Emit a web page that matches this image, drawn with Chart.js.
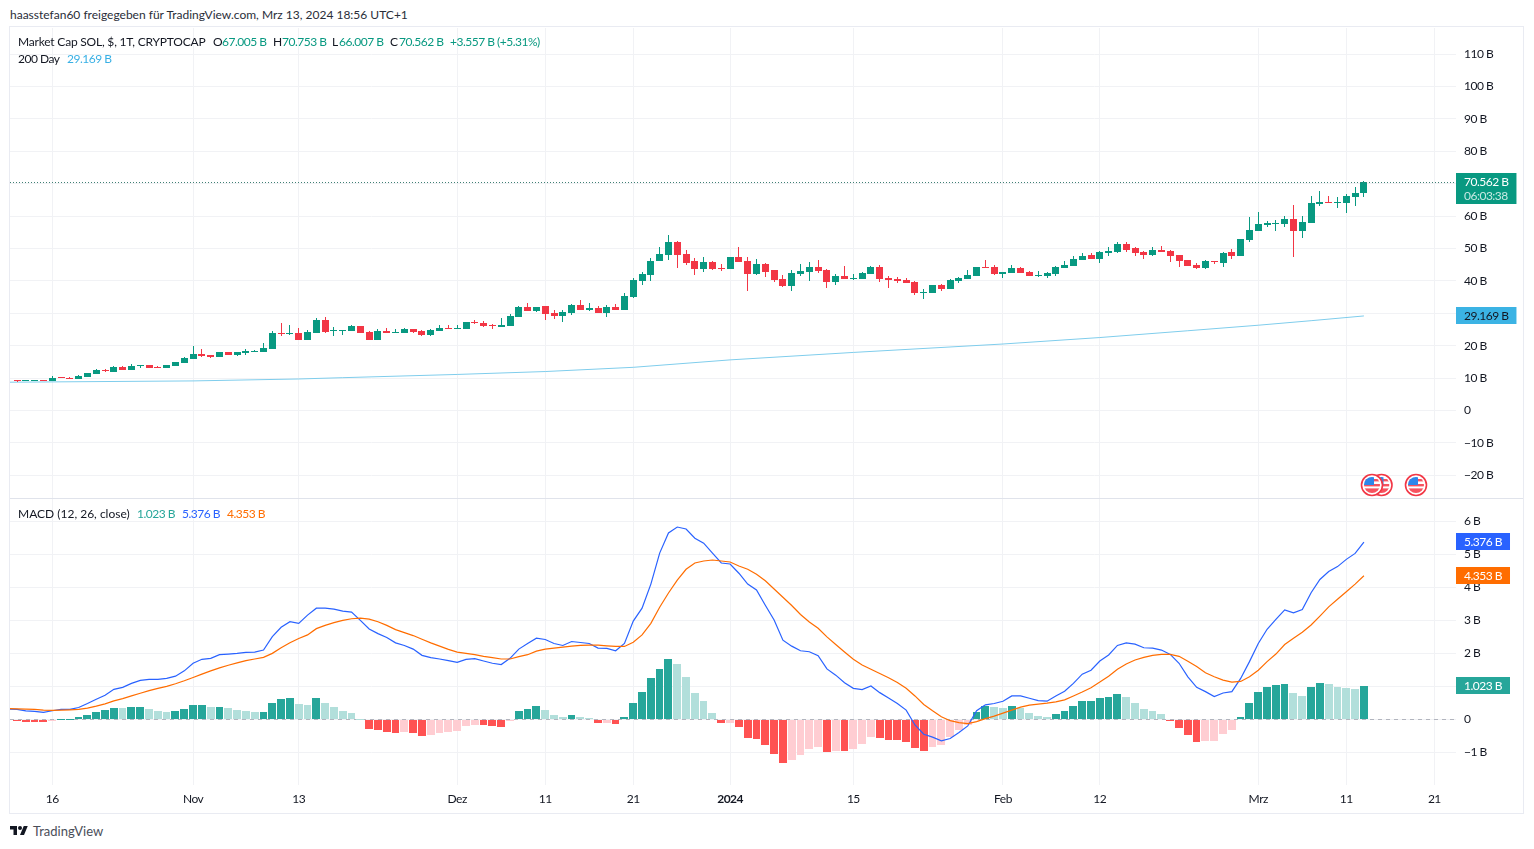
<!DOCTYPE html>
<html>
<head>
<meta charset="utf-8">
<title>Market Cap SOL</title>
<script src="https://cdn.jsdelivr.net/npm/chart.js@4"></script>
<style>
  html, body { margin: 0; padding: 0; background: #fff; }
  body { position: relative; width: 1534px; height: 849px; overflow: hidden; font-family: Lato, sans-serif; font-size: 12px; color: #131722; }
  canvas { position: absolute; left: 10px; }
  #frame { position: absolute; left: 9px; top: 26px; width: 1513px; height: 786px; border: 1.5px solid #e9ebf2; }
  #divider { position: absolute; left: 10px; top: 498px; width: 1513px; height: 1px; background: #e0e3eb; }
  .t { position: absolute; white-space: nowrap; line-height: 14px; }
  .n { letter-spacing: -0.5px; }
  .green { color: #089981; }
  #logo { position: absolute; left: 10px; top: 824px; }
  #flags { position: absolute; left: 1355px; top: 470px; }
</style>
</head>
<body>
<div id="frame"></div>
<canvas id="priceChart" width="1513" height="470" style="top:28px"></canvas>
<canvas id="macdChart" width="1513" height="314" style="top:499px"></canvas>
<div id="divider"></div>

<div class="t" style="left:10px;top:8px;color:#2a2e39">haasstefan60 freigegeben für TradingView.com, Mrz 13, 2024 18:56 UTC+1</div>
<div class="t" style="left:18px;top:35px;letter-spacing:-0.2px">Market Cap SOL, $, 1T, CRYPTOCAP</div>
<div class="t" style="left:213px;top:35px">O</div><div class="t n green" style="left:222px;top:35px">67.005&nbsp;B</div>
<div class="t" style="left:273px;top:35px">H</div><div class="t n green" style="left:282px;top:35px">70.753&nbsp;B</div>
<div class="t" style="left:332px;top:35px">L</div><div class="t n green" style="left:339px;top:35px">66.007&nbsp;B</div>
<div class="t" style="left:390px;top:35px">C</div><div class="t n green" style="left:399px;top:35px">70.562&nbsp;B</div>
<div class="t n green" style="left:450px;top:35px">+3.557&nbsp;B (+5.31%)</div>
<div class="t n" style="left:18px;top:52px">200 Day</div><div class="t n" style="left:67px;top:52px;color:#39b0e5">29.169&nbsp;B</div>
<div class="t" style="left:18px;top:507px">MACD (12, 26, close)</div>
<div class="t n" style="left:137px;top:507px;color:#26a69a">1.023&nbsp;B</div>
<div class="t n" style="left:182px;top:507px;color:#2962ff">5.376&nbsp;B</div>
<div class="t n" style="left:227px;top:507px;color:#ff6d00">4.353&nbsp;B</div>

<svg id="flags" width="76" height="30" viewBox="0 0 76 30">
  <defs>
    <clipPath id="disc"><circle cx="0" cy="0" r="8"/></clipPath>
    <g id="flag">
      <circle r="10.5" fill="#fff" stroke="#f23645" stroke-width="1.6"/>
      <g clip-path="url(#disc)">
        <rect x="-8" y="-8" width="16" height="16" fill="#fff"/>
        <rect x="-8" y="-6" width="16" height="2.4" fill="#f7525f"/>
        <rect x="-8" y="-1" width="16" height="2.4" fill="#f7525f"/>
        <rect x="-8" y="3.4" width="16" height="4.6" fill="#f7525f"/>
        <rect x="-8" y="-8" width="10" height="8" fill="#2e86ea"/>
      </g>
    </g>
  </defs>
  <use href="#flag" x="26.5" y="15"/>
  <use href="#flag" x="17" y="15"/>
  <use href="#flag" x="61" y="15"/>
</svg>

<svg id="logo" width="18" height="14" viewBox="0 0 36 28">
  <path fill="#131722" d="M14 22H7V11H0V4h14v18zM28 22h-8l7.5-18h8L28 22z"/><circle cx="20" cy="8" r="4" fill="#131722"/>
</svg>
<div class="t" style="left:33px;top:824px;font-size:13px;color:#4a4e59">TradingView</div>

<script>
'use strict';

// day numbers are counted from Oct 16 2023, the first labelled tick on the time axis
const firstCandleDay = -4;
const firstLineDay = -5;
const tickDays = [0, 16, 28, 46, 56, 66, 77, 91, 108, 119, 137, 147, 157];
const tickLabels = ['16', 'Nov', '13', 'Dez', '11', '21', '2024', '15', 'Feb', '12', 'Mrz', '11', '21'];
const priceTicks = [-20, -10, 0, 10, 20, 30, 40, 50, 60, 70, 80, 90, 100, 110];
const macdTicks = [-1, 0, 1, 2, 3, 4, 5, 6];

// candles, in billions of dollars
const opens = [
  9.39,9.2,9.2,9.39,9.08,10.31,10.0,9.7,10.31,11.24,
  12.48,11.86,13.4,12.48,13.71,14.02,13.4,13.09,13.71,14.64,
  15.87,17.42,17.11,16.49,18.04,17.11,17.73,18.04,18.04,18.96,
  23.9,23.6,23.9,21.74,23.9,27.92,24.52,24.63,24.53,26.07,
  24.22,21.75,24.53,23.91,23.91,25.14,24.53,23.29,24.53,25.45,
  25.14,25.14,27.41,27.0,26.48,25.76,26.07,28.85,31.94,30.7,
  32.25,30.09,29.16,30.09,32.56,31.01,31.63,30.09,31.94,31.01,
  35.03,39.97,41.83,46.15,48.0,52.02,48.31,46.15,43.68,45.84,
  43.99,43.68,47.39,46.15,42.13,45.22,43.37,40.59,38.43,42.13,
  42.75,44.3,43.37,39.66,41.52,40.59,40.59,42.13,44.3,40.9,
  40.59,40.28,39.66,36.26,36.26,38.74,37.5,39.97,40.59,41.52,
  44.3,44.3,42.13,42.44,43.99,42.75,41.52,41.52,42.13,43.99,
  44.6,46.46,48.0,46.77,48.62,48.93,51.4,50.16,48.93,48.0,
  49.55,49.24,48.0,46.46,44.91,43.99,46.16,45.54,48.94,47.7,
  52.65,55.43,57.28,57.59,57.59,59.13,55.43,57.9,63.77,64.38,
  64.08,64.08,65.93,67.005
];
const highs = [
  9.39,9.4,9.4,9.4,10.62,10.31,10.2,10.93,11.55,12.78,
  12.78,13.71,13.71,14.33,14.02,14.02,13.71,14.02,14.95,16.49,
  19.89,18.96,17.11,18.04,18.04,18.04,18.96,18.65,20.82,24.52,
  27.0,26.38,25.45,24.83,28.54,28.85,25.76,24.94,26.38,26.07,
  24.53,25.14,25.45,25.14,25.45,25.14,24.84,25.14,26.38,26.38,
  26.38,27.31,27.92,27.61,26.69,28.54,29.78,32.25,33.18,31.94,
  32.25,31.01,31.01,32.87,34.1,33.18,32.25,32.56,32.87,36.26,
  40.9,42.75,47.08,50.47,54.18,52.33,49.55,47.08,47.39,46.15,
  45.22,47.39,50.47,47.39,46.77,45.53,43.37,41.83,43.37,45.22,
  45.84,46.46,43.68,42.13,44.6,42.13,42.75,44.6,44.91,41.52,
  41.21,40.9,39.97,37.5,38.74,39.04,40.59,41.21,43.37,44.3,
  46.46,44.91,42.75,44.91,44.3,43.06,43.06,42.75,44.6,46.15,
  47.69,48.62,48.62,49.24,50.47,52.02,52.02,50.47,49.24,50.47,
  50.78,49.55,48.0,46.46,45.53,46.46,46.16,48.94,49.87,52.96,
  59.75,61.3,58.51,58.83,60.06,63.46,60.06,66.24,67.78,66.24,
  65.93,66.86,69.02,70.753
];
const lows = [
  8.77,9.2,9.2,9.2,9.08,10.1,9.59,9.7,10.31,11.24,
  11.86,11.86,12.48,12.48,13.09,13.09,13.09,13.09,13.71,14.64,
  15.87,16.49,16.18,16.49,17.11,16.8,17.11,18.04,18.04,18.96,
  22.98,23.29,21.74,21.74,23.9,23.9,22.98,23.29,24.53,23.91,
  21.75,21.75,23.91,23.91,23.91,23.91,22.98,22.98,24.53,25.14,
  25.14,25.14,26.79,25.76,25.14,25.76,26.07,28.85,30.7,30.4,
  27.92,28.23,27.31,29.47,31.01,30.7,30.09,28.85,31.01,31.01,
  34.72,38.74,39.97,46.15,46.46,43.99,44.91,41.83,42.75,43.37,
  43.06,43.68,45.84,36.88,41.83,41.21,39.66,38.12,36.88,41.52,
  39.97,42.44,37.81,38.74,40.59,40.28,40.59,42.13,39.66,37.81,
  39.35,39.35,35.65,34.41,36.26,36.88,37.5,39.35,40.59,41.52,
  43.99,41.83,40.9,42.44,42.44,41.52,41.21,40.9,41.52,43.99,
  44.6,46.46,46.77,45.53,47.69,48.62,48.93,47.69,46.77,47.69,
  48.93,45.84,44.3,44.6,43.68,43.68,45.23,44.31,46.78,47.7,
  52.03,55.43,56.66,55.43,56.66,47.39,53.26,57.9,63.15,64.08,
  62.53,60.99,63.15,66.007
];
const closes = [
  9.08,9.39,9.39,9.2,10.0,10.1,9.8,10.62,11.55,12.48,
  12.17,13.4,12.48,13.71,14.02,13.09,13.09,14.02,14.95,16.18,
  17.42,16.8,16.49,18.04,17.11,18.04,18.35,18.35,19.27,23.9,
  23.6,23.9,21.74,24.21,27.92,24.21,24.83,24.94,26.07,23.91,
  21.75,24.53,23.91,24.22,25.14,24.22,23.29,24.84,25.45,25.14,
  25.45,27.31,27.1,26.07,26.17,26.38,29.16,31.94,30.7,31.94,
  29.78,29.16,30.4,32.56,31.01,31.63,30.09,31.94,31.01,35.34,
  40.28,42.13,46.15,48.31,52.02,48.0,45.53,43.68,45.84,43.68,
  43.68,47.39,45.84,42.13,45.22,42.75,40.28,38.43,42.44,43.06,
  44.3,43.06,39.66,41.52,40.59,40.9,42.44,44.3,40.59,40.28,
  39.97,39.35,36.26,36.57,38.74,37.5,40.28,40.9,41.83,44.3,
  43.99,42.13,42.75,43.99,42.44,41.52,41.83,42.44,44.3,44.91,
  46.77,47.69,46.77,48.93,49.24,51.4,49.55,48.62,48.0,49.55,
  48.93,47.69,46.15,44.6,43.99,46.16,45.85,48.63,47.7,52.96,
  55.74,57.59,57.9,57.9,59.13,55.43,58.21,64.08,64.38,64.08,
  64.38,66.24,67.16,70.562
];

// 200 day average, read at the days where the slope changes
const smaDays = [-5, 16, 28, 33, 46, 56, 66, 77, 91, 108, 119, 129, 137, 143, 149];
const smaValues = [8.7, 9.1, 9.7, 10.1, 11.1, 12.0, 13.3, 15.6, 17.9, 20.5, 22.5, 24.6, 26.3, 27.7, 29.169];

// MACD pane
const histogram = [
  -0.065,-0.068,-0.07,-0.072,-0.05,0.01,0.02,0.07,0.13,0.22,
  0.28,0.34,0.33,0.37,0.38,0.31,0.25,0.22,0.25,0.31,
  0.43,0.44,0.37,0.38,0.34,0.28,0.25,0.22,0.23,0.49,
  0.61,0.64,0.46,0.45,0.64,0.49,0.37,0.25,0.19,0.01,
  -0.29,-0.32,-0.38,-0.41,-0.38,-0.41,-0.51,-0.47,-0.41,-0.38,
  -0.35,-0.2,-0.17,-0.18,-0.2,-0.23,-0.05,0.25,0.31,0.4,
  0.28,0.13,0.07,0.13,0.07,0.04,-0.11,-0.1,-0.14,0.07,
  0.49,0.83,1.25,1.52,1.82,1.67,1.28,0.8,0.55,0.19,
  -0.11,-0.1,-0.23,-0.56,-0.59,-0.77,-1.05,-1.32,-1.23,-1.08,
  -0.9,-0.84,-0.99,-0.96,-0.97,-0.9,-0.75,-0.54,-0.57,-0.63,
  -0.64,-0.69,-0.87,-0.96,-0.84,-0.78,-0.54,-0.32,-0.17,0.22,
  0.4,0.37,0.34,0.4,0.34,0.19,0.1,0.07,0.16,0.25,
  0.4,0.55,0.56,0.64,0.67,0.76,0.67,0.49,0.31,0.25,
  0.16,-0.05,-0.26,-0.47,-0.69,-0.66,-0.65,-0.44,-0.32,0.07,
  0.49,0.83,0.98,1.04,1.07,0.8,0.71,0.98,1.1,1.07,
  0.98,0.95,0.92,1.023
];
const macdLine = [
  0.31,
  0.3,0.26,0.24,0.21,0.26,0.3,0.3,0.36,0.48,0.61,
  0.73,0.91,0.97,1.09,1.18,1.21,1.21,1.24,1.31,1.47,
  1.7,1.82,1.85,1.96,1.98,2.0,2.03,2.04,2.1,2.51,
  2.79,2.96,2.91,3.16,3.37,3.37,3.34,3.28,3.25,3.0,
  2.74,2.6,2.48,2.32,2.24,2.13,1.94,1.87,1.83,1.78,
  1.73,1.82,1.84,1.77,1.7,1.66,1.85,2.13,2.3,2.46,
  2.42,2.3,2.24,2.36,2.33,2.3,2.16,2.15,2.08,2.3,
  2.98,3.37,4.1,5.04,5.65,5.83,5.77,5.49,5.34,5.04,
  4.74,4.71,4.43,4.1,3.92,3.46,3.01,2.4,2.22,2.08,
  2.05,1.93,1.53,1.34,1.11,0.94,0.9,1.01,0.81,0.65,
  0.48,0.28,-0.17,-0.45,-0.54,-0.65,-0.58,-0.4,-0.2,0.26,
  0.44,0.48,0.55,0.71,0.71,0.64,0.57,0.55,0.71,0.85,
  1.09,1.37,1.49,1.77,1.95,2.24,2.32,2.28,2.17,2.16,
  2.1,1.97,1.7,1.29,0.97,0.84,0.69,0.8,0.84,1.24,
  1.75,2.3,2.73,3.03,3.32,3.23,3.33,3.84,4.24,4.48,
  4.63,4.85,5.03,5.376
];
const signalLine = [
  0.33,
  0.32,0.31,0.3,0.28,0.27,0.28,0.29,0.3,0.34,0.4,
  0.47,0.56,0.63,0.71,0.79,0.87,0.94,1.0,1.08,1.17,
  1.27,1.37,1.47,1.56,1.64,1.71,1.78,1.83,1.88,2.0,
  2.17,2.32,2.45,2.56,2.75,2.85,2.93,3.0,3.05,3.07,
  3.04,2.96,2.85,2.72,2.63,2.54,2.43,2.32,2.22,2.12,
  2.04,2.0,1.96,1.91,1.87,1.83,1.83,1.9,1.96,2.07,
  2.13,2.16,2.19,2.22,2.24,2.25,2.25,2.23,2.21,2.21,
  2.34,2.56,2.91,3.4,3.83,4.22,4.55,4.74,4.8,4.83,
  4.8,4.77,4.65,4.55,4.4,4.2,3.95,3.7,3.45,3.18,
  2.95,2.76,2.5,2.27,2.04,1.82,1.65,1.52,1.39,1.26,
  1.12,0.94,0.71,0.45,0.26,0.08,-0.04,-0.1,-0.13,-0.07,
  0.02,0.1,0.19,0.28,0.37,0.43,0.46,0.49,0.53,0.59,
  0.71,0.83,0.96,1.13,1.31,1.52,1.68,1.8,1.88,1.94,
  1.97,1.97,1.91,1.76,1.6,1.41,1.29,1.19,1.13,1.15,
  1.29,1.49,1.75,1.98,2.27,2.46,2.64,2.86,3.13,3.41,
  3.64,3.87,4.1,4.353
];

const lastClose = closes[closes.length - 1];
const lastSma = smaValues[smaValues.length - 1];
const lastHist = histogram[histogram.length - 1];
const lastMacd = macdLine[macdLine.length - 1];
const lastSignal = signalLine[signalLine.length - 1];

const upColor = '#089981';
const downColor = '#f23645';
const gridColor = '#f1f2f5';
const fontFamily = 'Lato, sans-serif';
const dayMin = -4.8;
const dayMax = 159.46;

function billions(v) {
  return v.toFixed(3) + '\u00a0B';
}

function candleColor(i) {
  return closes[i] >= opens[i] ? upColor : downColor;
}

function histColor(i) {
  const v = histogram[i];
  const prev = i > 0 ? histogram[i - 1] : v;
  if (v >= 0) {
    return v >= prev ? '#26a69a' : '#b2dfdb';
  }
  return v <= prev ? '#ff5252' : '#ffcdd2';
}

function points(values, firstDay) {
  return values.map((v, i) => ({ x: firstDay + i, y: v }));
}

function xScale(showLabels) {
  return {
    type: 'linear',
    offset: false,
    min: dayMin,
    max: dayMax,
    afterBuildTicks: (scale) => { scale.ticks = tickDays.map((d) => ({ value: d })); },
    afterFit: (scale) => {
      scale.height = showLabels ? 28 : 0;
      scale.paddingLeft = 0;
      scale.paddingRight = 0;
    },
    border: { display: false },
    grid: { color: gridColor, drawTicks: false, offset: false },
    ticks: {
      display: showLabels,
      autoSkip: false,
      maxRotation: 0,
      padding: 7,
      color: '#131722',
      font: (c) => ({ family: fontFamily, size: 12, weight: c.tick && c.tick.value === 77 ? 'bold' : 'normal' }),
      callback: (v) => tickLabels[tickDays.indexOf(v)]
    }
  };
}

function yScale(min, max, values) {
  return {
    position: 'right',
    min: min,
    max: max,
    afterBuildTicks: (scale) => { scale.ticks = values.map((v) => ({ value: v })); },
    afterFit: (scale) => {
      scale.width = 67;
      scale.paddingTop = 0;
      scale.paddingBottom = 0;
    },
    border: { display: false },
    grid: { color: gridColor, drawTicks: false },
    ticks: {
      padding: 8,
      color: '#131722',
      font: { family: fontFamily, size: 12 },
      callback: (v) => v === 0 ? '0' : (v < 0 ? '\u2212' + (-v) : v) + '\u00a0B'
    }
  };
}

// bars sit on whole pixels, like in the original
const snapBars = {
  id: 'snapBars',
  afterDatasetsUpdate(chart) {
    chart.data.datasets.forEach((ds, i) => {
      if (ds.type === 'line') return;
      chart.getDatasetMeta(i).data.forEach((bar) => {
        if (ds.barThickness % 2) {
          bar.x = Math.floor(bar.x) + 0.5;
        } else {
          // histogram columns keep a 1px gap, so they come out 7 or 8 wide
          const left = Math.round(bar.x - 4);
          const right = Math.round(bar.x + 4.8) - 1;
          bar.x = (left + right) / 2;
          bar.width = right - left;
        }
        bar.y = Math.round(bar.y);
        bar.base = Math.round(bar.base);
        if (bar.y === bar.base) bar.base = bar.y + 1;
      });
    });
  },
  beforeDraw(chart) {
    chart.ctx.letterSpacing = '-0.5px';
  }
};

function drawTag(chart, value, text, bg, fg, subText) {
  const c = chart.ctx;
  const area = chart.chartArea;
  const y = Math.round(chart.scales.y.getPixelForValue(value));
  c.save();
  c.font = '12px ' + fontFamily;
  const w = Math.max(c.measureText(text).width, subText ? c.measureText(subText).width : 0) + 16;
  c.fillStyle = bg;
  c.fillRect(area.right, y - 9, w, subText ? 31 : 17);
  c.fillStyle = fg;
  c.textBaseline = 'middle';
  c.fillText(text, area.right + 8, y);
  if (subText) {
    c.fillStyle = '#c6e8e2';
    c.fillText(subText, area.right + 8, y + 14);
  }
  c.restore();
}

function drawLevel(chart, value, color, dash) {
  const c = chart.ctx;
  const area = chart.chartArea;
  const y = Math.round(chart.scales.y.getPixelForValue(value)) + 0.5;
  c.save();
  c.strokeStyle = color;
  c.lineWidth = 1;
  c.setLineDash(dash);
  c.beginPath();
  c.moveTo(area.left, y);
  c.lineTo(area.right, y);
  c.stroke();
  c.restore();
}

new Chart(document.getElementById('priceChart'), {
  type: 'bar',
  data: {
    datasets: [
      {
        type: 'line',
        data: smaDays.map((d, i) => ({ x: d, y: smaValues[i] })),
        borderColor: '#7fcdec',
        borderWidth: 1,
        pointRadius: 0,
        order: 3
      },
      {
        data: points(lows.map((v, i) => [v, highs[i]]), firstCandleDay),
        backgroundColor: opens.map((v, i) => candleColor(i)),
        barThickness: 1,
        inflateAmount: 0,
        grouped: false,
        order: 2
      },
      {
        data: points(opens.map((v, i) => [v, closes[i]]), firstCandleDay),
        backgroundColor: opens.map((v, i) => candleColor(i)),
        barThickness: 7,
        inflateAmount: 0,
        grouped: false,
        order: 1
      }
    ]
  },
  options: {
    responsive: false,
    devicePixelRatio: 1,
    animation: false,
    layout: { padding: 0 },
    scales: { x: xScale(false), y: yScale(-27.06, 118.1, priceTicks) },
    plugins: { legend: { display: false }, tooltip: { enabled: false } }
  },
  plugins: [snapBars, {
    id: 'priceTags',
    afterDatasetsDraw(chart) { drawLevel(chart, lastClose, '#3f7f73', [1, 2]); },
    afterDraw(chart) {
      drawTag(chart, lastClose, billions(lastClose), upColor, '#fff', '06:03:38');
      drawTag(chart, lastSma, billions(lastSma), '#3bb3e4', '#131722');
    }
  }]
});

new Chart(document.getElementById('macdChart'), {
  type: 'bar',
  data: {
    datasets: [
      {
        type: 'line',
        data: points(macdLine, firstLineDay),
        borderColor: '#2962ff',
        borderWidth: 1.2,
        pointRadius: 0,
        order: 2
      },
      {
        type: 'line',
        data: points(signalLine, firstLineDay),
        borderColor: '#ff6d00',
        borderWidth: 1.2,
        pointRadius: 0,
        order: 1
      },
      {
        data: points(histogram, firstCandleDay),
        backgroundColor: histogram.map((v, i) => histColor(i)),
        barThickness: 8,
        inflateAmount: 0,
        grouped: false,
        order: 3
      }
    ]
  },
  options: {
    responsive: false,
    devicePixelRatio: 1,
    animation: false,
    layout: { padding: 0 },
    scales: { x: xScale(true), y: yScale(-1.99, 6.68, macdTicks) },
    plugins: { legend: { display: false }, tooltip: { enabled: false } }
  },
  plugins: [snapBars, {
    id: 'macdTags',
    beforeDatasetsDraw(chart) { drawLevel(chart, 0, '#b2b5be', [4, 4]); },
    afterDraw(chart) {
      drawTag(chart, lastMacd, billions(lastMacd), '#2962ff', '#fff');
      drawTag(chart, lastSignal, billions(lastSignal), '#ff6d00', '#fff');
      drawTag(chart, lastHist, billions(lastHist), '#26a69a', '#fff');
    }
  }]
});
</script>
</body>
</html>
